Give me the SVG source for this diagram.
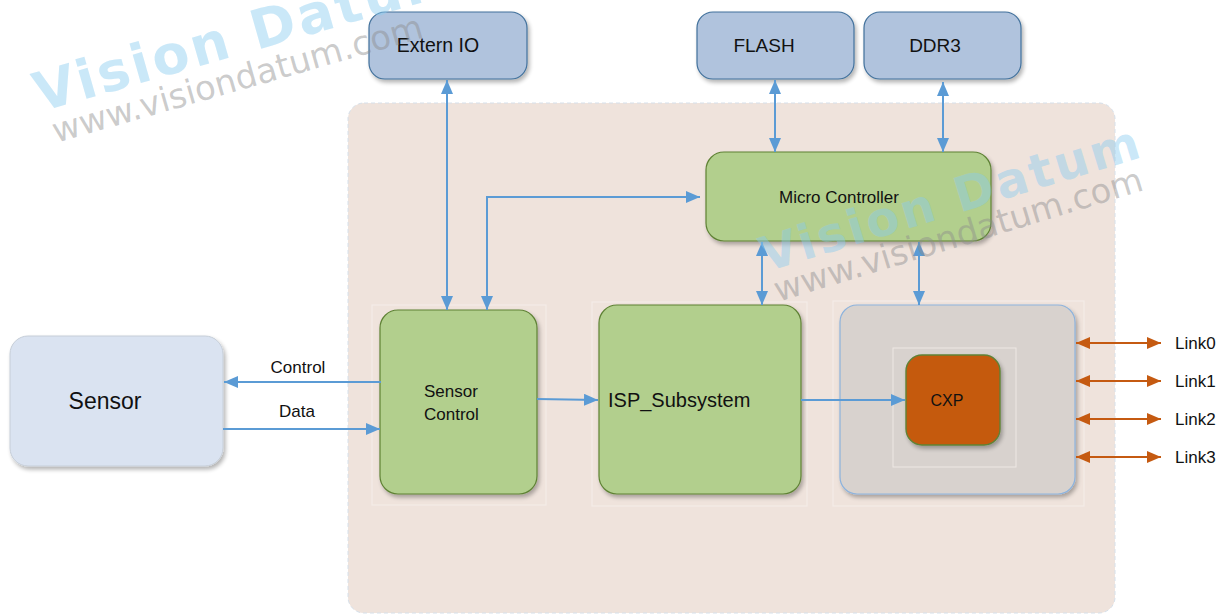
<svg xmlns="http://www.w3.org/2000/svg" width="1225" height="616" viewBox="0 0 1225 616">
  <defs>
    <style>
      text { font-family: "Liberation Sans", "Open Sans", sans-serif; fill: #111; }
      .ext { fill: #B0C3DD; stroke: #41719C; stroke-width: 1.2; }
      .grn { fill: #B2CF8D; stroke: #5F8235; stroke-width: 1.2; }
      .frame { fill: none; stroke: #F5EEE9; stroke-width: 1; }
      .wire { fill: none; stroke: #5B9BD5; stroke-width: 2; }
      .wire1 { marker-end: url(#ab); }
      .wire2 { marker-start: url(#ab); marker-end: url(#ab); }
      .link { fill: none; stroke: #C55A11; stroke-width: 2; marker-start: url(#ao); marker-end: url(#ao); }
      .wm-big { font-family: "DejaVu Sans", Verdana, sans-serif; font-weight: bold; fill: #8ACBEF; fill-opacity: 0.45; letter-spacing: 3px; }
      .wm-url { font-family: "DejaVu Sans", Verdana, sans-serif; fill: #8C8C8C; fill-opacity: 0.45; }
    </style>
    <marker id="ab" viewBox="0 0 14 12" refX="14" refY="6" markerWidth="14" markerHeight="12" markerUnits="userSpaceOnUse" orient="auto-start-reverse">
      <path d="M0,0 L14,6 L0,12 z" fill="#5B9BD5"/>
    </marker>
    <marker id="ao" viewBox="0 0 14 12" refX="14" refY="6" markerWidth="14" markerHeight="12" markerUnits="userSpaceOnUse" orient="auto-start-reverse">
      <path d="M0,0 L14,6 L0,12 z" fill="#C55A11"/>
    </marker>
    <filter id="sh" x="-10%" y="-10%" width="130%" height="130%">
      <feGaussianBlur in="SourceAlpha" stdDeviation="2"/>
      <feOffset dx="2" dy="3" result="o"/>
      <feComponentTransfer><feFuncA type="linear" slope="0.3"/></feComponentTransfer>
      <feMerge><feMergeNode/><feMergeNode in="SourceGraphic"/></feMerge>
    </filter>
  </defs>

  <rect width="1225" height="616" fill="#FFFFFF"/>

  <!-- camera board enclosure -->
  <g id="board">
    <rect x="348" y="103" width="767" height="510" rx="16" fill="#EFE3DC" stroke="#D6E0EA" stroke-width="1" stroke-dasharray="4 3"/>
    <rect x="372" y="305" width="174" height="200" class="frame"/>
    <rect x="592" y="302" width="215" height="204" class="frame"/>
    <rect x="833" y="301" width="251" height="205" class="frame"/>
  </g>

  <g id="sensor">
    <rect x="10" y="336" width="213" height="130" rx="18" fill="#DAE3F1" stroke="#C6CED8" stroke-width="1" filter="url(#sh)"/>
    <text x="105" y="409" font-size="23" text-anchor="middle">Sensor</text>
  </g>

  <g id="extern-io">
    <rect x="369" y="12" width="158" height="67" rx="16" class="ext" filter="url(#sh)"/>
    <text x="438" y="52" font-size="19.5" text-anchor="middle">Extern IO</text>
  </g>

  <g id="flash">
    <rect x="697" y="12" width="157" height="67" rx="16" class="ext" filter="url(#sh)"/>
    <text x="764" y="52" font-size="19" text-anchor="middle">FLASH</text>
  </g>

  <g id="ddr3">
    <rect x="864" y="12" width="157" height="67" rx="16" class="ext" filter="url(#sh)"/>
    <text x="935" y="52" font-size="19" text-anchor="middle">DDR3</text>
  </g>

  <g id="micro-controller">
    <rect x="706" y="152" width="285" height="89" rx="18" class="grn" filter="url(#sh)"/>
    <text x="839" y="203" font-size="17" text-anchor="middle">Micro Controller</text>
  </g>

  <g id="sensor-control">
    <rect x="380" y="310" width="157" height="184" rx="18" class="grn" filter="url(#sh)"/>
    <text x="424" y="397" font-size="17">Sensor</text>
    <text x="424" y="420" font-size="17">Control</text>
  </g>

  <g id="isp-subsystem">
    <rect x="599" y="305" width="202" height="189" rx="18" class="grn" filter="url(#sh)"/>
    <text x="608" y="407" font-size="20">ISP_Subsystem</text>
  </g>

  <g id="cxp-block">
    <rect x="840" y="305" width="235" height="189" rx="17" fill="#D8D2CE" stroke="#8DB3DD" stroke-width="1.2" filter="url(#sh)"/>
    <rect x="893" y="348" width="123" height="119" fill="none" stroke="#EEE8E4" stroke-width="1"/>
  </g>

  <g id="cxp">
    <rect x="906" y="355" width="94" height="90" rx="16" fill="#C55A11" stroke="#5F8235" stroke-width="1.4" filter="url(#sh)"/>
    <text x="947" y="406" font-size="16" text-anchor="middle">CXP</text>
  </g>

  <!-- connectors -->
  <g id="connectors">
    <line x1="381" y1="382" x2="224" y2="382" class="wire wire1"/>
    <line x1="223" y1="429" x2="380" y2="429" class="wire wire1"/>
    <line x1="447" y1="80" x2="447" y2="310" class="wire wire2"/>
    <polyline points="487,310 487,197 700,197" class="wire wire2"/>
    <line x1="537" y1="399" x2="598" y2="400" class="wire wire1"/>
    <line x1="801" y1="400" x2="905" y2="400" class="wire wire1"/>
    <line x1="775" y1="80" x2="775" y2="152" class="wire wire2"/>
    <line x1="943" y1="82" x2="943" y2="152" class="wire wire2"/>
    <line x1="762" y1="242" x2="762" y2="305" class="wire wire2"/>
    <line x1="919" y1="242" x2="919" y2="305" class="wire wire2"/>
    <line x1="1076" y1="343" x2="1161" y2="343" class="link"/>
    <line x1="1076" y1="381" x2="1161" y2="381" class="link"/>
    <line x1="1076" y1="419" x2="1161" y2="419" class="link"/>
    <line x1="1076" y1="457" x2="1161" y2="457" class="link"/>
  </g>

  <g id="connector-labels">
    <text x="298" y="373" font-size="17" text-anchor="middle">Control</text>
    <text x="297" y="417" font-size="17" text-anchor="middle">Data</text>
    <text x="1175" y="349" font-size="17">Link0</text>
    <text x="1175" y="387" font-size="17">Link1</text>
    <text x="1175" y="425" font-size="17">Link2</text>
    <text x="1175" y="463" font-size="17">Link3</text>
  </g>

  <!-- watermark -->
  <g id="watermark">
    <text class="wm-big" font-size="54" transform="translate(40,112) rotate(-16)">Vision Datum</text>
    <text class="wm-url" font-size="34" transform="translate(56,143) rotate(-16)">www.visiondatum.com</text>
    <text class="wm-big" font-size="48" transform="translate(766,272) rotate(-17)">Vision Datum</text>
    <text class="wm-url" font-size="34" transform="translate(778,302) rotate(-17)">www.visiondatum.com</text>
  </g>
</svg>
